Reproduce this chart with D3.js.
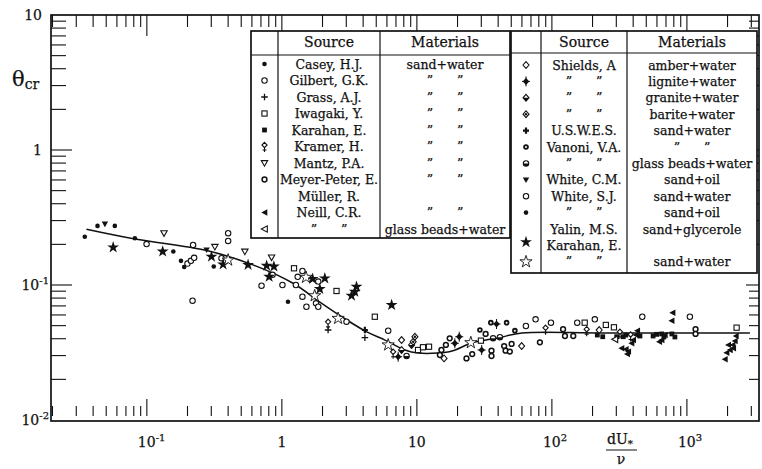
<!DOCTYPE html>
<html>
<head>
<meta charset="utf-8">
<script src="https://cdn.jsdelivr.net/npm/d3@7"></script>
<style>
  body { margin: 0; background: #fff; }
  svg { display: block; }
  text { font-family: "DejaVu Serif", "Liberation Serif", serif; fill: #111; stroke: #111; stroke-width: 0.25; }
</style>
</head>
<body>
<svg id="chart" width="762" height="469"></svg>
<script>
// Shields curve: critical Shields parameter against grain Reynolds number dU*/ν
const curveX = [0.0357, 0.084, 0.277, 0.61, 1.21, 1.91, 2.83, 4.26, 5.8, 8.15, 10.2, 14.3, 18.2, 25.5, 39.8, 60, 239, 2930];
const curveY = [0.259, 0.218, 0.180, 0.141, 0.103, 0.0748, 0.0575, 0.0449, 0.0391, 0.033, 0.0313, 0.0313, 0.0324, 0.0372, 0.0405, 0.0441, 0.0441, 0.0441];

// Measurements, [dU*/ν, θcr]
const caseyHJ = [[0.0347,0.228],[0.0815,0.222],[0.157,0.177],[0.189,0.136],[0.313,0.137],[1.11,0.0752]];
const gilbertGK = [[0.0995,0.201],[0.200,0.144],[0.212,0.151],[0.224,0.159],[0.220,0.198],[0.218,0.0765],[0.357,0.158],[0.400,0.242],[0.400,0.212],[0.707,0.0988],[0.853,0.119],[1.01,0.100],[1.27,0.100],[1.42,0.127],[1.31,0.115],[1.86,0.106],[1.42,0.0819],[1.52,0.069],[1.79,0.0732],[1.86,0.069],[3.01,0.0535]];
const grassAJ = [[2.20,0.0464],[4.12,0.0407]];
const iwagakiY = [[1.23,0.133],[2.54,0.0903],[4.88,0.0582],[10.2,0.0330],[11.1,0.0346],[12.3,0.0349],[29.8,0.0387],[175,0.0526],[251,0.0506],[288,0.0486],[2335,0.0483]];
const karahanSandWater = [[217,0.0426],[238,0.0414],[302,0.0414],[338,0.0414],[353,0.0426],[449,0.0419],[562,0.0419],[597,0.0431],[650,0.0434],[676,0.0412],[774,0.0434],[815,0.0412]];
const kramerH = [[2.20,0.0520],[6.67,0.0312],[89.8,0.0470],[181,0.0459],[319,0.0439],[383,0.0419]];
const mantzPA = [[0.134,0.242],[0.319,0.192],[0.532,0.177],[0.839,0.160]];
const meyerPeterMuller = [[15.2,0.0330],[14.8,0.0303],[17.5,0.0403],[16.4,0.0360],[23.3,0.0286],[25.7,0.0308],[32.3,0.0434],[35.7,0.0326],[35.7,0.0298],[44.3,0.0353],[45.4,0.0326],[50.3,0.0366],[48.8,0.0321],[81.5,0.0376],[121,0.0470],[125,0.0419],[144,0.0419],[1159,0.0470],[1159,0.0434]];
const neillSand = [[328,0.0340],[353,0.0334],[368,0.0321],[361,0.0308],[389,0.0370],[400,0.0391],[419,0.0426],[429,0.0459],[624,0.0380],[650,0.0391],[687,0.0426],[783,0.0623],[771,0.0544],[2307,0.0419],[2268,0.0385],[2181,0.0360],[2205,0.0340],[2023,0.0360],[2083,0.0330],[1911,0.0282],[1968,0.0315]];
const neillGlass = [[293,0.0396]];
const shieldsAmber = [[7.70,0.0391],[15.9,0.0286],[59.7,0.0353],[224,0.0464]];
const shieldsLignite = [[7.27,0.0294],[19.1,0.0370],[20.6,0.0414],[30.2,0.0330],[38.9,0.0514]];
const shieldsGranite = [[7.70,0.0330],[9.14,0.0360]];
const shieldsBarite = [[9.39,0.0380],[9.67,0.0414]];
const uswes = [[4.12,0.0464]];
const vanoniSand = [[35.3,0.0526],[46.2,0.0526],[29.3,0.0464],[53.2,0.0459]];
const vanoniGlass = [[36.7,0.0403],[41.2,0.0410],[8.39,0.0298]];
const whiteCM = [[0.0489,0.283],[0.277,0.182]];
const whiteSJWater = [[6.13,0.0459],[64.2,0.0497],[75.7,0.0557],[98.4,0.0526],[154,0.0526],[208,0.0557],[467,0.0582],[1052,0.0582]];
const whiteSJOil = [[0.0431,0.274],[0.0579,0.274],[0.179,0.151]];
const yalinMS = [[0.0563,0.190],[0.131,0.177],[0.301,0.162],[0.367,0.142],[0.562,0.141],[0.771,0.139],[0.873,0.137],[0.805,0.115],[1.69,0.111],[2.08,0.112],[1.91,0.0934],[3.57,0.0971],[3.47,0.0891],[3.28,0.0833],[6.50,0.0711]];
const karahanStar = [[0.400,0.153],[1.51,0.114],[1.75,0.0833],[2.61,0.0566],[6.13,0.0360],[25.1,0.0374]];

// Legend text
const leftSources = ["Casey, H.J.", "Gilbert, G.K.", "Grass, A.J.", "Iwagaki, Y.", "Karahan, E.", "Kramer, H.", "Mantz, P.A.", "Meyer-Peter, E.", "Müller, R.", "Neill, C.R.", "\u201D      \u201D"];
const leftMaterials = ["sand+water", "\u201D      \u201D", "\u201D      \u201D", "\u201D      \u201D", "\u201D      \u201D", "\u201D      \u201D", "\u201D      \u201D", "\u201D      \u201D", "", "\u201D      \u201D", "glass beads+water"];
const rightSources = ["Shields, A", "\u201D      \u201D", "\u201D      \u201D", "\u201D      \u201D", "U.S.W.E.S.", "Vanoni, V.A.", "\u201D      \u201D", "White, C.M.", "White, S.J.", "\u201D      \u201D", "Yalin, M.S.", "Karahan, E.", "\u201D      \u201D"];
const rightMaterials = ["amber+water", "lignite+water", "granite+water", "barite+water", "sand+water", "\u201D      \u201D", "glass beads+water", "sand+oil", "sand+water", "sand+oil", "sand+glycerole", "", "sand+water"];

// Tick labels
const xTickLabels = [{v: 0.1, base: "10", sup: "-1"}, {v: 1, base: "1"}, {v: 10, base: "10"}, {v: 100, base: "10", sup: "2"}, {v: 1000, base: "10", sup: "3"}];
const yTickLabels = [{v: 10, base: "10"}, {v: 1, base: "1"}, {v: 0.1, base: "10", sup: "-1"}, {v: 0.01, base: "10", sup: "-2"}];

const INK = "#111";
const svg = d3.select("#chart");

const x = d3.scaleLog().domain([0.0195, 3420]).range([51, 759]);
const y = d3.scaleLog().domain([0.01, 10]).range([420, 15]);
const frame = {l: 51, r: 759, t: 15, b: 421};

const isMajor = v => Math.abs(Math.log10(v) - Math.round(Math.log10(v))) < 1e-6;

// Frame
svg.append("rect").attr("x", frame.l).attr("y", frame.t).attr("width", frame.r - frame.l).attr("height", frame.b - frame.t)
  .attr("fill", "none").attr("stroke", INK).attr("stroke-width", 1.7);

// Inward ticks on all four sides
const ticks = svg.append("g").attr("stroke", INK).attr("stroke-width", 1.1);
const xt = x.ticks().filter(v => x(v) > frame.l + 1 && x(v) < frame.r - 1);
const yt = y.ticks().filter(v => y(v) > frame.t + 1 && y(v) < frame.b - 1);
xt.forEach(v => {
  const px = x(v), m = isMajor(v);
  ticks.append("line").attr("x1", px).attr("x2", px).attr("y1", frame.t).attr("y2", frame.t + (m ? 21 : 12));
  ticks.append("line").attr("x1", px).attr("x2", px).attr("y1", m ? 399 : 406).attr("y2", 416);
});
yt.forEach(v => {
  const py = y(v), m = isMajor(v);
  ticks.append("line").attr("x1", frame.l).attr("x2", frame.l + (m ? 21 : 15)).attr("y1", py).attr("y2", py);
  ticks.append("line").attr("x1", frame.r).attr("x2", frame.r - (m ? 13 : 10)).attr("y1", py).attr("y2", py);
});

// Tick labels
function powerLabel(g, d, px, py, anchor) {
  const t = g.append("text").attr("x", px).attr("y", py).attr("font-size", 14).attr("text-anchor", anchor);
  t.append("tspan").text(d.base);
  if (d.sup) t.append("tspan").attr("dy", -6).attr("font-size", 10).text(d.sup);
  return t;
}
const labels = svg.append("g");
xTickLabels.forEach(d => {
  const px = x(d.v);
  if (d.sup) powerLabel(labels, d, px - 9, 447, "start");
  else powerLabel(labels, d, px, 447, "middle");
});
yTickLabels.forEach(d => {
  powerLabel(labels, d, d.sup ? 49 : 42, y(d.v) + 5, "end");
});

// Axis titles
const th = svg.append("text").attr("x", 12).attr("y", 86);
th.append("tspan").attr("font-size", 21).text("θ");
th.append("tspan").attr("font-size", 14).attr("dy", 3).text("cr");

const xl = svg.append("g");
const num = xl.append("text").attr("x", 607).attr("y", 444).attr("font-size", 14);
num.append("tspan").text("dU");
num.append("tspan").attr("font-size", 10).attr("dy", 3).text("*");
xl.append("line").attr("x1", 606).attr("x2", 637).attr("y1", 450).attr("y2", 450).attr("stroke", INK).attr("stroke-width", 1);
xl.append("text").attr("x", 621).attr("y", 464).attr("font-size", 14).attr("text-anchor", "middle").text("ν");

// Symbol painters, drawn centred on the origin
const outline = (s, w) => s.attr("fill", "#fff").attr("stroke", INK).attr("stroke-width", w || 1.1);
const symbols = {
  dot: g => g.append("circle").attr("r", 2.3).attr("fill", INK),
  circle: g => outline(g.append("circle").attr("r", 2.7)),
  circleBold: g => outline(g.append("circle").attr("r", 2.4), 1.5),
  plus: g => g.append("path").attr("d", "M-3.3,0H3.3M0,-3.3V3.3").attr("stroke", INK).attr("stroke-width", 1.3),
  plusBold: g => g.append("path").attr("d", "M-3,0H3M0,-3.2V3.2").attr("stroke", INK).attr("stroke-width", 2.2),
  square: g => outline(g.append("rect").attr("x", -2.6).attr("y", -2.6).attr("width", 5.2).attr("height", 5.2)),
  squareFilled: g => g.append("rect").attr("x", -2.4).attr("y", -2.4).attr("width", 4.8).attr("height", 4.8).attr("fill", INK),
  kramer: g => {
    g.append("path").attr("d", "M0,1V5.5M-2,3.5H2").attr("stroke", INK).attr("stroke-width", 1.1);
    outline(g.append("path").attr("d", "M0,-4.2L2.6,-1.5L0,1.2L-2.6,-1.5Z"));
  },
  triDown: g => outline(g.append("path").attr("d", "M-3.2,-2.4H3.2L0,3.2Z")),
  triDownFilled: g => g.append("path").attr("d", "M-3.2,-2.4H3.2L0,3.2Z").attr("fill", INK),
  triLeft: g => outline(g.append("path").attr("d", "M-3.2,0L2.8,-3.2V3.2Z")),
  triLeftFilled: g => g.append("path").attr("d", "M-3.2,0L2.8,-3.2V3.2Z").attr("fill", INK),
  diamond: g => outline(g.append("path").attr("d", "M0,-3.4L3,0L0,3.4L-3,0Z")),
  diamondFilled: g => {
    g.append("path").attr("d", "M0,-3.6L3.2,0L0,3.6L-3.2,0Z").attr("fill", INK);
    g.append("path").attr("d", "M0,-5V5M-4,0H4").attr("stroke", INK).attr("stroke-width", 1);
  },
  diamondHalf: g => {
    outline(g.append("path").attr("d", "M0,-3.4L3,0L0,3.4L-3,0Z"));
    g.append("path").attr("d", "M-3,0L3,0L0,3.4Z").attr("fill", INK);
  },
  diamondDot: g => {
    outline(g.append("path").attr("d", "M0,-3.4L3,0L0,3.4L-3,0Z"));
    g.append("circle").attr("r", 1.2).attr("fill", INK);
  },
  ring: g => {
    g.append("circle").attr("r", 2.8).attr("fill", INK);
    g.append("circle").attr("r", 1).attr("fill", "#fff");
  },
  circleHalf: g => {
    outline(g.append("circle").attr("r", 2.7));
    g.append("path").attr("d", "M-2.7,0A2.7,2.7 0 0 0 2.7,0Z").attr("fill", INK);
  },
  star: g => g.append("path").attr("d", d3.symbol(d3.symbolStar, 44)()).attr("fill", INK),
  starOpen: g => outline(g.append("path").attr("d", d3.symbol(d3.symbolStar, 46)()), 0.9)
};

// Series: data array and the symbol it is drawn with
const series = [
  {data: caseyHJ, sym: "dot"},
  {data: gilbertGK, sym: "circle"},
  {data: grassAJ, sym: "plus"},
  {data: iwagakiY, sym: "square"},
  {data: karahanSandWater, sym: "squareFilled"},
  {data: kramerH, sym: "kramer"},
  {data: mantzPA, sym: "triDown"},
  {data: meyerPeterMuller, sym: "circleBold"},
  {data: neillSand, sym: "triLeftFilled"},
  {data: neillGlass, sym: "triLeft"},
  {data: shieldsAmber, sym: "diamond"},
  {data: shieldsLignite, sym: "diamondFilled"},
  {data: shieldsGranite, sym: "diamondHalf"},
  {data: shieldsBarite, sym: "diamondDot"},
  {data: uswes, sym: "plusBold"},
  {data: vanoniSand, sym: "ring"},
  {data: vanoniGlass, sym: "circleHalf"},
  {data: whiteCM, sym: "triDownFilled"},
  {data: whiteSJWater, sym: "circle"},
  {data: whiteSJOil, sym: "dot"},
  {data: yalinMS, sym: "star"},
  {data: karahanStar, sym: "starOpen"}
];

// Fitted curve
const line = d3.line().x((d, i) => x(curveX[i])).y((d, i) => y(curveY[i])).curve(d3.curveCatmullRom.alpha(0.5));
svg.append("path").attr("d", line(curveX)).attr("fill", "none").attr("stroke", INK).attr("stroke-width", 1.5);

// Points
const pts = svg.append("g");
series.forEach(s => {
  s.data.forEach(d => {
    const g = pts.append("g").attr("transform", `translate(${x(d[0])},${y(d[1])})`);
    symbols[s.sym](g);
  });
});

// Legend tables
function table(cfg) {
  const g = svg.append("g");
  g.append("rect").attr("x", cfg.x0).attr("y", cfg.y0).attr("width", cfg.x3 - cfg.x0).attr("height", cfg.y1 - cfg.y0)
    .attr("fill", "#fff").attr("stroke", INK).attr("stroke-width", 1.7);
  g.append("line").attr("x1", cfg.x0).attr("x2", cfg.x3).attr("y1", cfg.hy).attr("y2", cfg.hy).attr("stroke", INK).attr("stroke-width", 1.2);
  [cfg.x1, cfg.x2].forEach(cx => g.append("line").attr("x1", cx).attr("x2", cx).attr("y1", cfg.y0).attr("y2", cfg.y1).attr("stroke", INK).attr("stroke-width", 1.2));
  g.append("text").attr("x", (cfg.x1 + cfg.x2) / 2).attr("y", cfg.y0 + 16).attr("text-anchor", "middle").attr("font-size", 14).text("Source");
  g.append("text").attr("x", (cfg.x2 + cfg.x3) / 2).attr("y", cfg.y0 + 16).attr("text-anchor", "middle").attr("font-size", 14).text("Materials");
  cfg.sources.forEach((s, i) => {
    const ry = cfg.r0 + i * cfg.dr;
    g.append("text").attr("x", (cfg.x1 + cfg.x2) / 2).attr("y", ry + 4.5).attr("text-anchor", "middle").attr("font-size", 12.5)
      .style("white-space", "pre").text(s);
    g.append("text").attr("x", (cfg.x2 + cfg.x3) / 2).attr("y", ry + 4.5).attr("text-anchor", "middle").attr("font-size", 12.5)
      .style("white-space", "pre").text(cfg.materials[i]);
  });
  cfg.keys.forEach(k => {
    const sg = g.append("g").attr("transform", `translate(${(cfg.x0 + cfg.x1) / 2},${cfg.r0 + k.row * cfg.dr})`);
    symbols[k.sym](sg);
  });
}

table({
  x0: 251, x1: 278, x2: 380, x3: 510, y0: 31, y1: 238, hy: 55, r0: 64, dr: 16.5,
  sources: leftSources, materials: leftMaterials,
  keys: [{row: 0, sym: "dot"}, {row: 1, sym: "circle"}, {row: 2, sym: "plus"}, {row: 3, sym: "square"},
         {row: 4, sym: "squareFilled"}, {row: 5, sym: "kramer"}, {row: 6, sym: "triDown"}, {row: 7, sym: "circleBold"},
         {row: 9, sym: "triLeftFilled"}, {row: 10, sym: "triLeft"}]
});
table({
  x0: 511, x1: 541, x2: 627, x3: 757, y0: 31, y1: 273, hy: 53, r0: 65, dr: 16.4,
  sources: rightSources, materials: rightMaterials,
  keys: [{row: 0, sym: "diamond"}, {row: 1, sym: "diamondFilled"}, {row: 2, sym: "diamondHalf"}, {row: 3, sym: "diamondDot"},
         {row: 4, sym: "plusBold"}, {row: 5, sym: "ring"}, {row: 6, sym: "circleHalf"}, {row: 7, sym: "triDownFilled"},
         {row: 8, sym: "circle"}, {row: 9, sym: "dot"}, {row: 10.8, sym: "star"}, {row: 12, sym: "starOpen"}]
});
</script>
</body>
</html>
